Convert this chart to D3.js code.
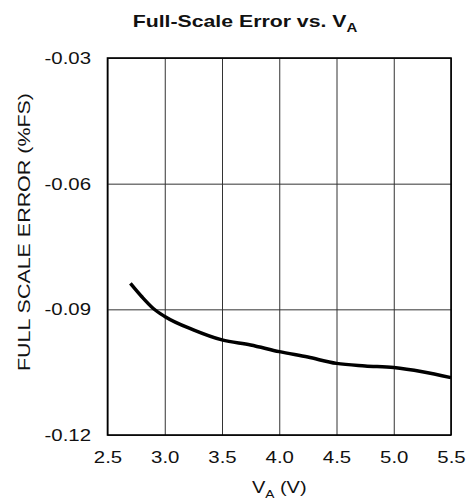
<!DOCTYPE html>
<html lang="en">
<head>
    <meta charset="UTF-8">
    <title>Full-Scale Error vs. VA</title>
    <style>
        html, body {
            margin: 0;
            padding: 0;
            background: #fff;
        }
        svg text {
            font-family: "Liberation Sans", Arial, sans-serif;
            fill: #111;
        }
    </style>
</head>
<body>
    <div id="chart"></div>

    <script src="https://d3js.org/d3.v7.min.js"></script>
    <script>
    // values
    const supplyVolts = [2.7, 2.8, 2.9, 3.0, 3.25, 3.5, 3.75, 4.0, 4.25, 4.5, 4.75, 5.0, 5.25, 5.5];
    const fullScaleError = [-0.0838, -0.0870, -0.0898, -0.0917, -0.0949, -0.0973, -0.0985, -0.1001, -0.1014, -0.1029, -0.1035, -0.1039, -0.1049, -0.1063];
    const xTicks = [2.5, 3.0, 3.5, 4.0, 4.5, 5.0, 5.5];
    const yTicks = [-0.03, -0.06, -0.09, -0.12];

    const W = 471, H = 504;
    const margin = { top: 58, right: 20, bottom: 69, left: 107.5 };
    const width = W - margin.left - margin.right;
    const height = H - margin.top - margin.bottom;
    const stretch = 1.2;   // the reference type is set wide

    const svg = d3.select("#chart")
        .append("svg")
        .attr("width", W)
        .attr("height", H);

    const g = svg.append("g")
        .attr("transform", `translate(${margin.left},${margin.top})`);

    const x = d3.scaleLinear().domain([2.5, 5.5]).range([0, width]);
    const y = d3.scaleLinear().domain([-0.12, -0.03]).range([height, 0]);

    // x axis + vertical grid
    const xAxis = g.append("g")
        .attr("transform", `translate(0,${height})`)
        .call(d3.axisBottom(x).tickValues(xTicks).tickFormat(d => d.toFixed(1))
            .tickSize(-height).tickPadding(16));
    xAxis.select(".domain").remove();
    xAxis.selectAll("line").attr("stroke", "#333").attr("stroke-width", 1);
    xAxis.selectAll("text")
        .attr("font-size", 17)
        .attr("transform", `scale(${stretch},1)`);

    // y axis + horizontal grid
    const yAxis = g.append("g")
        .call(d3.axisLeft(y).tickValues(yTicks).tickFormat(d => d.toFixed(2))
            .tickSize(-width));
    yAxis.select(".domain").remove();
    yAxis.selectAll("line").attr("stroke", "#333").attr("stroke-width", 1);
    yAxis.selectAll("text")
        .attr("font-size", 17)
        .attr("x", -16.5 / stretch)
        .attr("transform", `scale(${stretch},1)`);

    // frame
    g.append("rect")
        .attr("x", 0).attr("y", 0)
        .attr("width", width).attr("height", height)
        .attr("fill", "none")
        .attr("stroke", "#000")
        .attr("stroke-width", 1.6);

    // curve
    const line = d3.line()
        .x((d, i) => x(supplyVolts[i]))
        .y(d => y(d))
        .curve(d3.curveMonotoneX);

    g.append("path")
        .datum(fullScaleError)
        .attr("fill", "none")
        .attr("stroke", "#000")
        .attr("stroke-width", 3.5)
        .attr("stroke-linejoin", "round")
        .attr("d", line);

    // title
    const title = svg.append("text")
        .attr("transform", `translate(245,27) scale(1.25,1)`)
        .attr("text-anchor", "middle")
        .attr("font-size", 17)
        .attr("font-weight", "bold");
    title.append("tspan").text("Full-Scale Error vs. V");
    title.append("tspan").attr("font-size", 12).attr("dy", 5).text("A");

    // x label
    const xLabel = svg.append("text")
        .attr("transform", `translate(${margin.left + width / 2},493) scale(1.25,1)`)
        .attr("text-anchor", "middle")
        .attr("font-size", 16);
    xLabel.append("tspan").text("V");
    xLabel.append("tspan").attr("font-size", 11).attr("dy", 5).text("A");
    xLabel.append("tspan").attr("dy", -5).text(" (V)");

    // y label
    svg.append("text")
        .attr("transform", `translate(30,232) rotate(-90) scale(1.3,1)`)
        .attr("text-anchor", "middle")
        .attr("font-size", 16.5)
        .text("FULL SCALE ERROR (%FS)");
    </script>
</body>
</html>
